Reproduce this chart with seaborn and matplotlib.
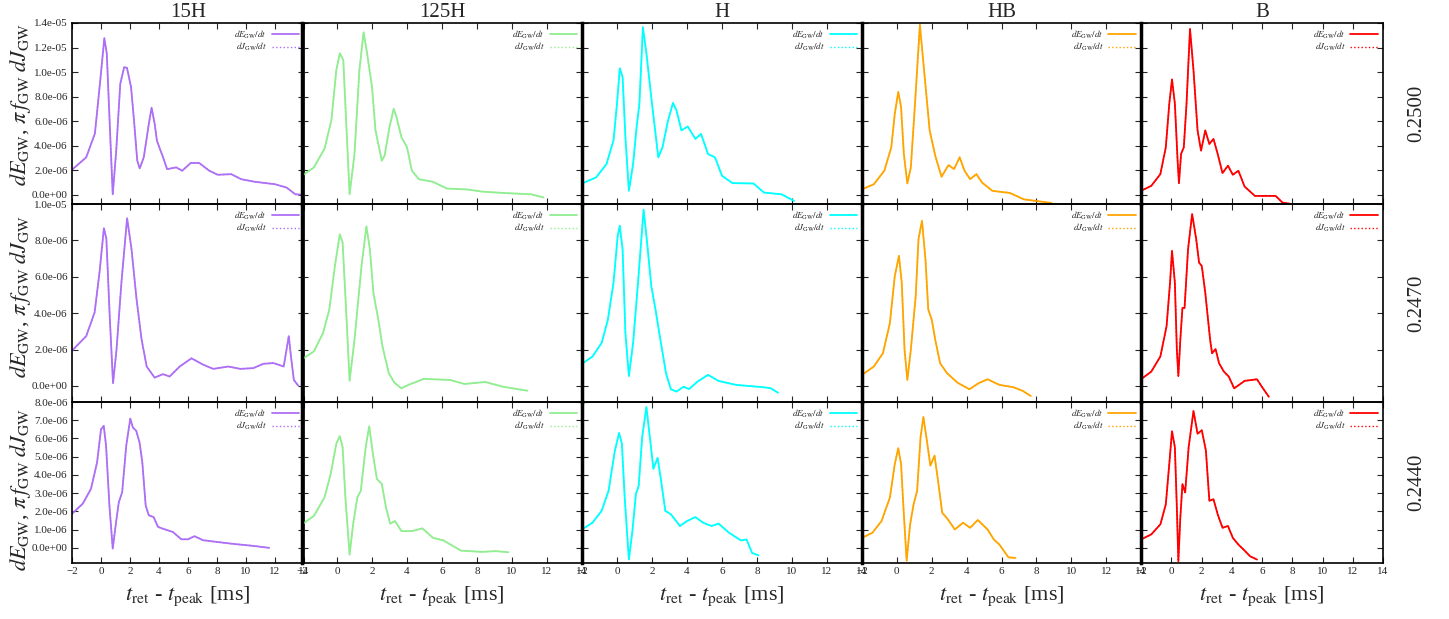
import numpy as np
import pandas as pd
import seaborn as sns
import matplotlib
matplotlib.use("Agg")
import matplotlib.pyplot as plt
import matplotlib.ticker as ticker

# values in units of 1e-6
SCALE = 1e-6

models = ["15H", "125H", "H", "HB", "B"]
colors = ["#ad6ff5", "#90ee90", "#00ffff", "#ffa500", "#ff0000"]
row_labels = ["0.2500", "0.2470", "0.2440"]

# ---- row 0.2500 ----
t_15h_a = [-2, -1.02, -0.42, -0.07, 0.23, 0.4, 0.63, 0.81, 1.05, 1.33, 1.6, 1.79, 2.07, 2.26, 2.5, 2.67,
           2.95, 3.3, 3.49, 3.7, 3.86, 4.28, 4.56, 5.19, 5.6, 6.19, 6.77, 7.47, 8.05, 8.98, 9.67, 10.6,
           12.0, 12.8, 13.4, 13.74]
e_15h_a = [2.05, 3.06, 5.0, 9.1, 12.76, 11.5, 5.0, 0.05, 3.6, 9.07, 10.4, 10.35, 8.8, 6.3, 2.8, 2.16,
           3.06, 5.8, 7.1, 5.8, 4.4, 3.06, 2.1, 2.24, 1.97, 2.6, 2.6, 1.97, 1.64, 1.69, 1.28, 1.07,
           0.87, 0.6, 0.05, 0.03]
t_125h_a = [-2, -1.32, -0.72, -0.32, -0.04, 0.16, 0.36, 0.52, 0.72, 1.0, 1.28, 1.52, 1.72, 2.0, 2.2, 2.36,
            2.56, 2.72, 3.0, 3.24, 3.4, 3.68, 4.0, 4.28, 4.68, 5.48, 6.28, 7.48, 8.28, 9.48, 11.08, 11.8]
e_125h_a = [1.56, 2.24, 3.74, 6.07, 10.16, 11.53, 10.98, 6.07, 0.05, 3.33, 10.16, 13.25, 11.53, 8.8, 5.25, 4.15,
            2.79, 3.2, 5.52, 7.02, 6.34, 4.7, 3.88, 1.97, 1.28, 1.07, 0.52, 0.44, 0.27, 0.16, 0.05, -0.2]
t_h_a = [-2, -1.2, -0.6, -0.2, 0.0, 0.16, 0.32, 0.48, 0.68, 0.92, 1.12, 1.28, 1.48, 1.68, 2.0, 2.36,
         2.6, 2.92, 3.2, 3.4, 3.68, 4.04, 4.48, 4.8, 5.2, 5.6, 6.0, 6.6, 7.8, 8.4, 9.4, 10.12]
e_h_a = [0.93, 1.42, 2.51, 4.43, 7.43, 10.3, 9.62, 4.7, 0.33, 2.51, 5.52, 7.43, 13.66, 11.53, 7.43, 3.06,
         3.88, 6.07, 7.49, 6.89, 5.25, 5.57, 4.56, 4.97, 3.33, 3.06, 1.56, 0.96, 0.93, 0.19, 0.05, -0.49]
t_hb_a = [-2, -1.32, -0.72, -0.32, -0.12, 0.08, 0.24, 0.4, 0.6, 0.8, 1.04, 1.32, 1.56, 1.88, 2.2, 2.56,
          2.96, 3.28, 3.6, 3.88, 4.2, 4.56, 4.88, 5.48, 6.48, 7.28, 8.88]
e_hb_a = [0.46, 0.87, 1.97, 3.88, 6.61, 8.39, 7.16, 3.33, 0.93, 2.24, 7.43, 13.85, 10.16, 5.25, 3.2, 1.48,
          2.43, 2.1, 3.06, 1.97, 1.28, 1.69, 1.01, 0.33, 0.16, -0.36, -0.66]
t_b_a = [-2, -1.32, -0.72, -0.36, -0.13, 0.05, 0.24, 0.42, 0.51, 0.65, 0.83, 1.01, 1.24, 1.47, 1.74, 1.97,
         2.25, 2.52, 2.79, 3.07, 3.39, 3.75, 4.07, 4.44, 4.85, 5.53, 6.9, 7.36, 7.82]
e_b_a = [0.33, 0.74, 1.69, 3.88, 7.43, 9.4, 7.43, 2.79, 0.96, 3.33, 3.88, 7.43, 13.52, 10.16, 5.25, 3.6,
         5.25, 4.15, 4.56, 3.33, 1.78, 2.38, 1.64, 1.97, 0.68, -0.08, -0.08, -0.63, -0.71]

# ---- row 0.2470 ----
t_15h_b = [-2, -1.02, -0.44, -0.1, 0.2, 0.37, 0.6, 0.83, 1.07, 1.41, 1.8, 2.1, 2.45, 2.8, 3.15, 3.7,
           4.27, 4.73, 5.43, 6.24, 7.05, 7.74, 8.78, 9.6, 10.5, 11.2, 11.9, 12.6, 12.95, 13.1, 13.3, 13.6]
e_15h_b = [1.94, 2.74, 4.04, 6.26, 8.67, 8.1, 3.85, 0.15, 2.0, 5.7, 9.22, 7.55, 4.78, 2.55, 1.07, 0.46,
           0.65, 0.52, 1.07, 1.52, 1.17, 0.94, 1.07, 0.94, 0.98, 1.22, 1.26, 1.07, 2.74, 1.63, 0.33, 0.02]
t_125h_b = [-2, -1.32, -0.8, -0.44, -0.12, 0.16, 0.32, 0.52, 0.72, 1.0, 1.4, 1.68, 1.88, 2.08, 2.36, 2.6,
            2.96, 3.28, 3.68, 4.08, 4.96, 6.48, 7.28, 8.48, 9.48, 10.88]
e_125h_b = [1.47, 1.9, 2.91, 4.2, 6.59, 8.34, 7.88, 4.2, 0.28, 2.54, 6.59, 8.77, 7.51, 5.12, 3.65, 2.17,
            0.7, 0.18, -0.13, 0.06, 0.39, 0.33, 0.11, 0.22, -0.04, -0.26]
t_h_b = [-2, -1.4, -0.88, -0.52, -0.2, 0.04, 0.16, 0.32, 0.48, 0.68, 0.92, 1.2, 1.52, 1.72, 1.96, 2.2,
         2.48, 2.8, 3.08, 3.4, 3.8, 4.12, 4.6, 5.2, 5.8, 6.8, 8.4, 8.8, 9.2]
e_h_b = [1.22, 1.62, 2.36, 3.65, 5.67, 8.25, 8.8, 7.51, 2.91, 0.55, 2.36, 5.67, 9.69, 7.88, 5.49, 4.2,
         2.54, 0.7, -0.18, -0.31, -0.04, -0.17, 0.24, 0.61, 0.28, 0.06, -0.07, -0.13, -0.37]
t_hb_b = [-2, -1.32, -0.8, -0.4, -0.12, 0.12, 0.28, 0.44, 0.6, 0.8, 1.08, 1.24, 1.44, 1.64, 1.8, 2.0,
          2.2, 2.48, 2.88, 3.48, 4.16, 4.68, 5.2, 5.88, 6.68, 7.2, 7.68]
e_hb_b = [0.61, 1.07, 1.8, 3.46, 6.04, 7.15, 5.67, 1.99, 0.33, 1.99, 4.94, 8.07, 9.08, 6.96, 4.2, 3.65,
          2.54, 1.25, 0.7, 0.18, -0.18, 0.15, 0.37, 0.06, -0.07, -0.26, -0.55]
t_b_b = [-2, -1.32, -0.72, -0.31, -0.08, 0.05, 0.24, 0.37, 0.47, 0.6, 0.74, 0.88, 1.11, 1.38, 1.65, 1.84,
         2.02, 2.25, 2.57, 2.7, 2.93, 3.16, 3.48, 3.8, 4.16, 4.85, 5.67, 5.99, 6.45]
e_b_b = [0.37, 0.79, 1.62, 3.28, 5.67, 7.42, 5.67, 1.99, 0.55, 2.54, 4.29, 4.29, 7.51, 9.45, 8.07, 6.78,
         6.59, 5.12, 2.54, 1.8, 2.03, 1.25, 0.79, 0.52, -0.13, 0.28, 0.37, -0.04, -0.59]

# ---- row 0.2440 ----
t_15h_c = [-2, -1.26, -0.69, -0.27, 0.0, 0.19, 0.35, 0.58, 0.81, 1.04, 1.23, 1.46, 1.74, 2.02, 2.2, 2.43,
           2.66, 2.85, 3.08, 3.3, 3.63, 3.93, 4.27, 4.96, 5.54, 6.0, 6.45, 7.03, 7.95, 9.1, 10.49, 11.6]
e_15h_c = [1.87, 2.42, 3.24, 4.69, 6.5, 6.69, 5.6, 2.33, -0.04, 1.42, 2.51, 3.05, 5.6, 7.09, 6.6, 6.42,
           5.78, 4.69, 2.33, 1.78, 1.69, 1.15, 1.05, 0.87, 0.47, 0.47, 0.64, 0.42, 0.33, 0.22, 0.11, 0.0]
t_125h_c = [-2, -1.32, -0.72, -0.36, -0.04, 0.16, 0.32, 0.48, 0.72, 0.92, 1.16, 1.36, 1.64, 1.84, 2.08, 2.28,
            2.56, 2.8, 3.04, 3.32, 3.68, 4.28, 4.88, 5.48, 6.08, 7.08, 8.28, 9.08, 9.8]
e_125h_c = [1.29, 1.75, 2.76, 4.05, 5.71, 6.13, 5.52, 2.76, -0.37, 1.29, 2.76, 3.13, 5.52, 6.67, 4.97, 3.78,
            3.5, 2.21, 1.33, 1.47, 0.92, 0.92, 1.07, 0.55, 0.41, -0.15, -0.22, -0.18, -0.24]
t_h_c = [-2, -1.4, -0.88, -0.48, -0.12, 0.12, 0.28, 0.44, 0.68, 0.88, 1.08, 1.24, 1.44, 1.68, 1.92, 2.08,
         2.32, 2.52, 2.76, 3.08, 3.6, 4.0, 4.48, 4.92, 5.4, 5.8, 6.4, 7.08, 7.4, 7.72, 8.08]
e_h_c = [1.01, 1.38, 2.03, 3.13, 5.34, 6.3, 5.71, 2.76, -0.64, 0.92, 2.95, 3.41, 6.08, 7.73, 5.71, 4.33,
         4.94, 3.68, 2.03, 1.84, 1.2, 1.47, 1.69, 1.38, 1.2, 1.33, 0.83, 0.41, 0.46, -0.28, -0.41]
t_hb_c = [-2, -1.4, -0.88, -0.4, -0.12, 0.08, 0.24, 0.4, 0.56, 0.76, 0.96, 1.16, 1.36, 1.52, 1.72, 1.92,
          2.16, 2.36, 2.6, 2.92, 3.32, 3.8, 4.2, 4.64, 5.2, 5.56, 5.88, 6.4, 6.8]
e_hb_c = [0.55, 0.83, 1.47, 2.76, 4.6, 5.47, 4.6, 1.84, -0.7, 1.29, 2.39, 3.13, 6.08, 7.18, 5.89, 4.51,
          5.06, 3.68, 1.93, 1.57, 1.01, 1.38, 1.1, 1.53, 1.01, 0.46, 0.18, -0.52, -0.55]
t_b_c = [-2, -1.32, -0.72, -0.36, -0.13, 0.05, 0.24, 0.37, 0.47, 0.6, 0.74, 0.92, 1.15, 1.47, 1.74, 2.02,
         2.29, 2.52, 2.79, 3.07, 3.39, 3.75, 4.07, 4.44, 4.85, 5.21, 5.67]
e_b_c = [0.46, 0.74, 1.29, 2.39, 4.6, 6.39, 5.52, 2.21, -0.74, 1.66, 3.5, 3.04, 5.52, 7.51, 6.26, 6.45,
         5.34, 2.58, 2.67, 1.84, 1.1, 1.2, 0.55, 0.18, -0.15, -0.46, -0.64]

rows_t = [[t_15h_a, t_125h_a, t_h_a, t_hb_a, t_b_a],
          [t_15h_b, t_125h_b, t_h_b, t_hb_b, t_b_b],
          [t_15h_c, t_125h_c, t_h_c, t_hb_c, t_b_c]]
rows_e = [[e_15h_a, e_125h_a, e_h_a, e_hb_a, e_b_a],
          [e_15h_b, e_125h_b, e_h_b, e_hb_b, e_b_b],
          [e_15h_c, e_125h_c, e_h_c, e_hb_c, e_b_c]]

# y axis per row (ticks of the left column)
ylims = [(-0.74e-6, 1.4e-5), (-0.88e-6, 1.0e-5), (-0.83e-6, 8.0e-6)]
ysteps = [2e-6, 2e-6, 1e-6]
ytops = [1.4e-5, 1.0e-5, 8.0e-6]

sns.set_style("ticks")
plt.rcParams['font.family'] = ['Liberation Serif', 'DejaVu Serif']
plt.rcParams['mathtext.fontset'] = 'stix'

W, H = 1449, 619
fig = plt.figure(figsize=(W / 100, H / 100), dpi=100)

# panel edges in pixels
col_px = [(72, 304), (302, 582), (582, 862), (862, 1141), (1141, 1383)]
row_px = [(23, 204), (204, 402), (402, 563)]
ylabel_y = [105, 297, 490]

for r in range(3):
    for c in range(5):
        x0, x1 = col_px[c]
        y0, y1 = row_px[r]
        ax = fig.add_axes([x0 / W, 1 - y1 / H, (x1 - x0) / W, (y1 - y0) / H])
        ax.set_facecolor("none")

        df = pd.DataFrame({"t": rows_t[r][c], "e": np.array(rows_e[r][c]) * SCALE})
        sns.lineplot(data=df, x="t", y="e", ax=ax, color=colors[c], linewidth=1.3,
                     sort=False, estimator=None, label=r"$dE_{\rm GW}/dt$")
        sns.lineplot(data=df, x="t", y="e", ax=ax, color=colors[c], linewidth=1.0,
                     linestyle=":", sort=False, estimator=None, label=r"$dJ_{\rm GW}/dt$")

        ax.set_xlim(-2, 14)
        ax.set_ylim(*ylims[r])
        ax.xaxis.set_major_locator(ticker.MultipleLocator(2))
        ax.set_yticks(np.arange(0, ytops[r] + 1e-9, ysteps[r]))
        ax.yaxis.set_major_formatter(ticker.FuncFormatter(lambda v, p: "%.1e" % v))
        ax.tick_params(direction="in", top=True, right=True, length=4, width=0.8,
                       labelsize=8, pad=3)
        ax.set_xlabel("")
        ax.set_ylabel("")
        if c > 0:
            ax.set_yticklabels([])
        if r < 2:
            ax.set_xticklabels([])
        for s in ax.spines.values():
            s.set_linewidth(1.2)
            s.set_color("black")
        if c > 0:
            ax.spines["left"].set_linewidth(2.5)

        ax.legend(loc="upper right", frameon=False, fontsize=6.5, markerfirst=False,
                  handlelength=3.0, borderaxespad=0.2, labelspacing=0.05,
                  handletextpad=0.5)

        if r == 0:
            ax.set_title(models[c], fontsize=15, pad=4)
        if r == 2:
            ax.set_xlabel(r"$t_{\rm ret}$ - $t_{\rm peak}$ [ms]", fontsize=16, labelpad=6)
        if c == 4:
            ax.text(1.14, 0.5, row_labels[r], transform=ax.transAxes, rotation=90,
                    ha="center", va="center", fontsize=15)

    fig.text(21 / W, 1 - ylabel_y[r] / H,
             r"$dE_{\rm GW}$, $\pi\, f_{\rm GW}\; dJ_{\rm GW}$",
             rotation=90, ha="center", va="center", fontsize=16)

fig.savefig("out.png", dpi=100)
